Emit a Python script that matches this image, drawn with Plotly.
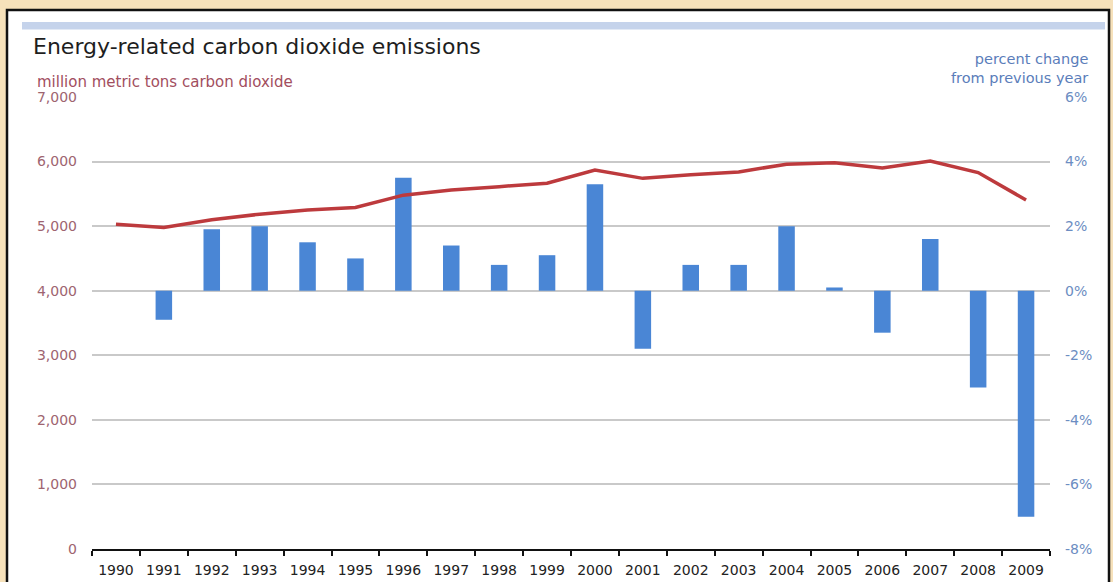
import plotly.graph_objects as go

# Energy-related CO2 emissions, 1990-2009
years = [str(y) for y in range(1990, 2010)]
emissions_mmt = [5030, 4980, 5100, 5185, 5250, 5290, 5480, 5560, 5612, 5665,
                 5870, 5740, 5795, 5840, 5960, 5980, 5900, 6010, 5830, 5405]
pct_change = [None, -0.9, 1.9, 2.0, 1.5, 1.0, 3.5, 1.4, 0.8, 1.1,
              3.3, -1.8, 0.8, 0.8, 2.0, 0.1, -1.3, 1.6, -3.0, -7.0]

left_ticks = [0, 1000, 2000, 3000, 4000, 5000, 6000, 7000]
right_ticks = [-8, -6, -4, -2, 0, 2, 4, 6]
right_tick_text = ["-8%", "-6%", "-4%", "-2%", "0%", "2%", "4%", "6%"]

W, H = 1113, 582
L, R, T, B = 92, 1050, 97, 549
FONT = "DejaVu Sans"


def px(x):
    return (x - L) / (R - L)


def py(y):
    return (B - y) / (B - T)


fig = go.Figure()

fig.add_trace(go.Bar(
    x=years, y=pct_change, yaxis="y",
    marker=dict(color="#4A86D5", line=dict(width=0)),
    hoverinfo="x+y",
))
fig.add_trace(go.Scatter(
    x=years, y=emissions_mmt, yaxis="y2", mode="lines",
    line=dict(color="#BD3A3D", width=3.5),
))

shapes = [
    # white panel with dark frame
    dict(type="rect", xref="paper", yref="paper", layer="below",
         x0=px(7), x1=px(1109), y0=py(10), y1=py(600),
         fillcolor="white", line=dict(color="#111111", width=2.5)),
    # pale blue band at the top of the panel
    dict(type="rect", xref="paper", yref="paper", layer="below",
         x0=px(22), x1=px(1105), y0=py(22), y1=py(29.5),
         fillcolor="#C5D3EB", line=dict(width=0)),
]

annotations = [
    dict(text="Energy-related carbon dioxide emissions", xref="paper", yref="paper",
         x=px(31), y=py(46), xanchor="left", yanchor="middle", showarrow=False,
         font=dict(family=FONT, size=22, color="#1E1E1E")),
    dict(text="million metric tons carbon dioxide", xref="paper", yref="paper",
         x=px(35), y=py(82), xanchor="left", yanchor="middle", showarrow=False,
         font=dict(family=FONT, size=15, color="#A24E5E")),
    dict(text="percent change<br>from previous year", xref="paper", yref="paper",
         x=px(1090), y=py(68), xanchor="right", yanchor="middle", align="right",
         showarrow=False,
         font=dict(family=FONT, size=14.5, color="#5A7DBA")),
]

fig.update_layout(
    width=W, height=H,
    margin=dict(l=L, r=W - R, t=T, b=H - B, pad=0, autoexpand=False),
    paper_bgcolor="#F6E1BA",
    plot_bgcolor="white",
    showlegend=False,
    bargap=0.655,
    shapes=shapes,
    annotations=annotations,
    xaxis=dict(
        type="category", range=[-0.5, 19.5], automargin=False,
        showline=True, linecolor="#111111", linewidth=2,
        ticks="outside", tickson="boundaries", ticklen=5, tickwidth=2,
        tickcolor="#111111", showgrid=False, zeroline=False,
        tickfont=dict(family=FONT, size=14, color="#222222"),
        ticklabelstandoff=7,
    ),
    yaxis=dict(
        side="right", range=[-8, 6], tickvals=right_ticks, ticktext=right_tick_text,
        automargin=False,
        showgrid=True, gridcolor="#C9C9C9", gridwidth=1.5, zeroline=False,
        showline=False, ticks="",
        tickfont=dict(family=FONT, size=14, color="#6C8DC2"),
        ticklabelstandoff=14,
    ),
    yaxis2=dict(
        side="left", overlaying="y", range=[0, 7000], tickvals=left_ticks,
        automargin=False,
        tickformat=",d", showgrid=False, zeroline=False, showline=False, ticks="",
        tickfont=dict(family=FONT, size=14, color="#9E6470"),
        ticklabelstandoff=14,
    ),
)

fig.write_html("out.html")
